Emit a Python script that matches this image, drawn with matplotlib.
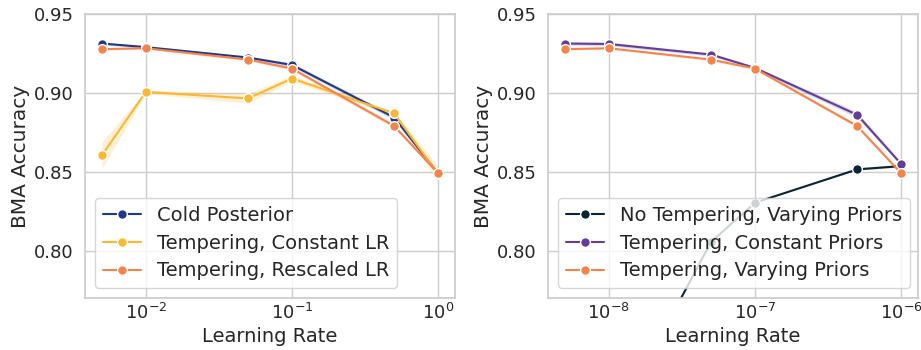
import matplotlib
matplotlib.use("Agg")
import matplotlib.pyplot as plt
import seaborn as sns
import numpy as np

sns.set_theme(style="whitegrid")
plt.rcParams['font.family'] = ['DejaVu Sans']

# Left panel data
lr_left = [0.005, 0.01, 0.05, 0.1, 0.5, 1.0]
cold_posterior = [0.9313, 0.9290, 0.9224, 0.9177, 0.8844, 0.8490]
cold_posterior_err = [0.0008, 0.0008, 0.0010, 0.0012, 0.0015, 0.0008]
temp_const_lr = [0.8604, 0.9006, 0.8965, 0.9091, 0.8870, 0.8485]
temp_const_lr_err = [0.0085, 0.0012, 0.0030, 0.0020, 0.0012, 0.0050]
temp_rescaled_lr = [0.9277, 0.9283, 0.9211, 0.9154, 0.8790, 0.8490]
temp_rescaled_lr_err = [0.0006, 0.0006, 0.0008, 0.0010, 0.0015, 0.0008]

# Right panel data
lr_right = [5e-9, 1e-8, 5e-8, 1e-7, 5e-7, 1e-6]
no_temp_vary = [0.600, 0.684, 0.8055, 0.8304, 0.8515, 0.8536]
no_temp_vary_err = [0.0, 0.0, 0.0, 0.0, 0.0008, 0.0008]
temp_const_priors = [0.9313, 0.9310, 0.9243, 0.9158, 0.8861, 0.8549]
temp_const_priors_err = [0.0010, 0.0012, 0.0010, 0.0010, 0.0018, 0.0012]
temp_vary_priors = [0.9277, 0.9283, 0.9211, 0.9154, 0.8790, 0.8490]
temp_vary_priors_err = [0.0006, 0.0006, 0.0008, 0.0008, 0.0012, 0.0008]

left_labels = ["Cold Posterior", "Tempering, Constant LR", "Tempering, Rescaled LR"]
right_labels = ["No Tempering, Varying Priors", "Tempering, Constant Priors", "Tempering, Varying Priors"]

c_blue = "#21388a"
c_yellow = "#fbb830"
c_orange = "#f5834a"
c_purple = "#623e98"
c_dark = "#0c2434"

fig = plt.figure(figsize=(9.21, 3.5), dpi=100)
axL = fig.add_axes([85/921, 52/350, 370/921, 284/350])
axR = fig.add_axes([548/921, 52/350, 370/921, 284/350])

def draw(ax, x, y, e, color, label):
    x = np.array(x); y = np.array(y); e = np.array(e)
    ax.fill_between(x, y - e, y + e, color=color, alpha=0.2, linewidth=0)
    ax.plot(x, y, color=color, lw=1.5, marker="o", markersize=7,
            markeredgecolor="white", markeredgewidth=1.0, label=label)

draw(axL, lr_left, cold_posterior, cold_posterior_err, c_blue, left_labels[0])
draw(axL, lr_left, temp_const_lr, temp_const_lr_err, c_yellow, left_labels[1])
draw(axL, lr_left, temp_rescaled_lr, temp_rescaled_lr_err, c_orange, left_labels[2])

draw(axR, lr_right, no_temp_vary, no_temp_vary_err, c_dark, right_labels[0])
draw(axR, lr_right, temp_const_priors, temp_const_priors_err, c_purple, right_labels[1])
draw(axR, lr_right, temp_vary_priors, temp_vary_priors_err, c_orange, right_labels[2])

for ax in (axL, axR):
    ax.set_xscale("log")
    ax.set_ylim(0.770, 0.950)
    ax.set_yticks([0.80, 0.85, 0.90, 0.95])
    ax.set_yticklabels(["0.80", "0.85", "0.90", "0.95"])
    ax.tick_params(labelsize=13, colors="#262626", length=0)
    ax.tick_params(axis="x", pad=3.5)
    ax.tick_params(axis="y", pad=8)
    ax.set_xlabel("Learning Rate", fontsize=14, color="#262626", labelpad=3)
    ax.set_ylabel("BMA Accuracy", fontsize=14.5, color="#262626", labelpad=3)
    ax.minorticks_off()
    ax.legend(loc="lower left", fontsize=14, frameon=True, framealpha=0.8,
              handlelength=2.0, borderpad=0.4, labelspacing=0.45)

axL.set_xticks([1e-2, 1e-1, 1e0])
axR.set_xticks([1e-8, 1e-7, 1e-6])

fig.savefig("out.png", dpi=100)
